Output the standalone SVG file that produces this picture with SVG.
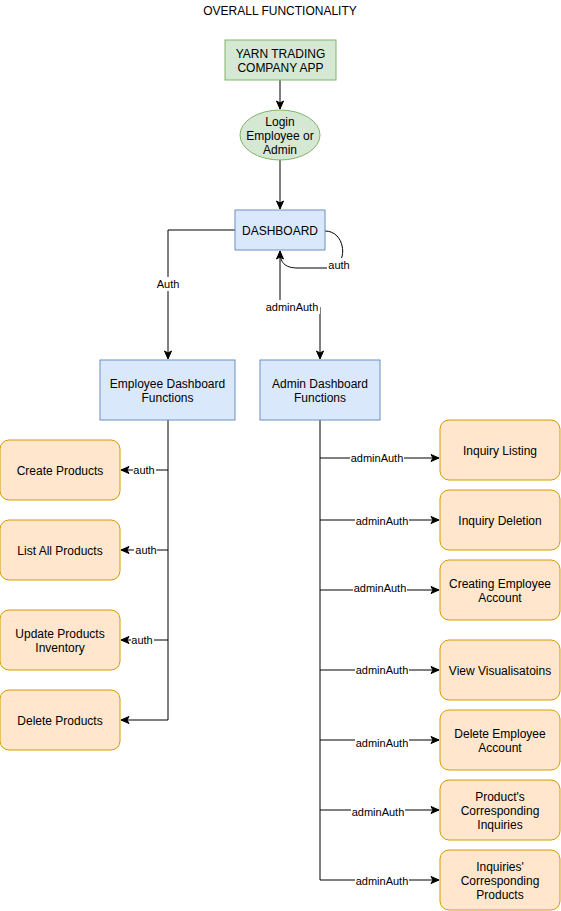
<svg xmlns="http://www.w3.org/2000/svg" width="561" height="911" viewBox="0 0 561 911">
<defs>
<marker id="arr" markerUnits="userSpaceOnUse" markerWidth="10" markerHeight="10" viewBox="0 0 10 10" refX="9" refY="5" orient="auto">
<path d="M1,1.5 L9,5 L1,8.5 L3,5 Z" fill="#000" stroke="#000" stroke-width="1"/>
</marker>
</defs>
<style>
text{font-family:"Liberation Sans",Arial,Helvetica,sans-serif;fill:#000;text-anchor:middle;dominant-baseline:central}
.n{font-size:12px}
.l{font-size:11px}
.green{fill:#d5e8d4;stroke:#82b366;stroke-width:1}
.blue{fill:#dae8fc;stroke:#6c8ebf;stroke-width:1}
.orange{fill:#ffe6cc;stroke:#d79b00;stroke-width:1}
.e{fill:none;stroke:#000;stroke-width:1}
.bg{fill:#fff}
</style>
<rect width="561" height="911" fill="#fff"/>
<text class="n" x="280" y="11">OVERALL FUNCTIONALITY</text>

<g id="connectors">
<path class="e" d="M280,80 L280,109" marker-end="url(#arr)"/>
<path class="e" d="M280,160 L280,209" marker-end="url(#arr)"/>
<path class="e" d="M235,230 L168,230 L168,359" marker-end="url(#arr)"/>
<rect class="bg" x="155" y="277" width="27" height="14"/>
<text class="l" x="168" y="284">Auth</text>
<path class="e" d="M325,231 C347,231 349,268 328,268 L298,268 C284,268 280,262 280,251" marker-end="url(#arr)"/>
<rect class="bg" x="327" y="258" width="24" height="14"/>
<text class="l" x="339" y="265">auth</text>
<path class="e" d="M280,252 L280,307 L320,307 L320,359" marker-end="url(#arr)"/>
<rect class="bg" x="264" y="300" width="56" height="14"/>
<text class="l" x="292" y="307">adminAuth</text>

<path class="e" d="M168,420 L168,720 L121,720" marker-end="url(#arr)"/>
<path class="e" d="M168,470 L121,470" marker-end="url(#arr)"/>
<path class="e" d="M168,550 L121,550" marker-end="url(#arr)"/>
<path class="e" d="M168,640 L121,640" marker-end="url(#arr)"/>
<rect class="bg" x="133" y="463" width="23" height="14"/>
<text class="l" x="144" y="470">auth</text>
<rect class="bg" x="134" y="543" width="23" height="14"/>
<text class="l" x="146" y="550">auth</text>
<rect class="bg" x="131" y="633" width="23" height="14"/>
<text class="l" x="142" y="640">auth</text>

<path class="e" d="M320,420 L320,880 L439,880" marker-end="url(#arr)"/>
<path class="e" d="M320,458 L439,458" marker-end="url(#arr)"/>
<path class="e" d="M320,520 L439,520" marker-end="url(#arr)"/>
<path class="e" d="M320,590 L439,590" marker-end="url(#arr)"/>
<path class="e" d="M320,670 L439,670" marker-end="url(#arr)"/>
<path class="e" d="M320,740 L439,740" marker-end="url(#arr)"/>
<path class="e" d="M320,810 L439,810" marker-end="url(#arr)"/>
<rect class="bg" x="350" y="451" width="54" height="14"/>
<text class="l" x="377" y="458">adminAuth</text>
<rect class="bg" x="355" y="514" width="54" height="14"/>
<text class="l" x="382" y="521">adminAuth</text>
<rect class="bg" x="353" y="581" width="54" height="14"/>
<text class="l" x="380" y="588">adminAuth</text>
<rect class="bg" x="355" y="663" width="54" height="14"/>
<text class="l" x="382" y="670">adminAuth</text>
<rect class="bg" x="355" y="736" width="54" height="14"/>
<text class="l" x="382" y="743">adminAuth</text>
<rect class="bg" x="351" y="805" width="54" height="14"/>
<text class="l" x="378" y="812">adminAuth</text>
<rect class="bg" x="355" y="874" width="54" height="14"/>
<text class="l" x="382" y="881">adminAuth</text>
</g>

<g id="yarn-app"><rect class="green" x="225" y="40" width="111" height="40"/>
<text class="n" x="280.5" y="54">YARN TRADING</text><text class="n" x="280.5" y="68">COMPANY APP</text></g>
<g id="login"><ellipse class="green" cx="280" cy="135" rx="40" ry="25"/>
<text class="n" x="280" y="122">Login</text><text class="n" x="280" y="136">Employee or</text><text class="n" x="280" y="150">Admin</text></g>
<g id="dashboard"><rect class="blue" x="235" y="210" width="90" height="40"/>
<text class="n" x="280" y="231">DASHBOARD</text></g>
<g id="employee-dashboard"><rect class="blue" x="100" y="360" width="135" height="60"/>
<text class="n" x="167.5" y="384">Employee Dashboard</text><text class="n" x="167.5" y="398">Functions</text></g>
<g id="admin-dashboard"><rect class="blue" x="260" y="360" width="120" height="60"/>
<text class="n" x="320" y="384">Admin Dashboard</text><text class="n" x="320" y="398">Functions</text></g>

<g id="create-products"><rect class="orange" x="0" y="440" width="120" height="60" rx="9"/>
<text class="n" x="60" y="471">Create Products</text></g>
<g id="list-products"><rect class="orange" x="0" y="520" width="120" height="60" rx="9"/>
<text class="n" x="60" y="551">List All Products</text></g>
<g id="update-products"><rect class="orange" x="0" y="610" width="120" height="60" rx="9"/>
<text class="n" x="60" y="634">Update Products</text><text class="n" x="60" y="648">Inventory</text></g>
<g id="delete-products"><rect class="orange" x="0" y="690" width="120" height="60" rx="9"/>
<text class="n" x="60" y="721">Delete Products</text></g>

<g id="inquiry-listing"><rect class="orange" x="440" y="420" width="120" height="60" rx="9"/>
<text class="n" x="500" y="451">Inquiry Listing</text></g>
<g id="inquiry-deletion"><rect class="orange" x="440" y="490" width="120" height="60" rx="9"/>
<text class="n" x="500" y="521">Inquiry Deletion</text></g>
<g id="creating-employee"><rect class="orange" x="440" y="560" width="120" height="60" rx="9"/>
<text class="n" x="500" y="584">Creating Employee</text><text class="n" x="500" y="598">Account</text></g>
<g id="view-visualisations"><rect class="orange" x="440" y="640" width="120" height="60" rx="9"/>
<text class="n" x="500" y="671">View Visualisatoins</text></g>
<g id="delete-employee"><rect class="orange" x="440" y="710" width="120" height="60" rx="9"/>
<text class="n" x="500" y="734">Delete Employee</text><text class="n" x="500" y="748">Account</text></g>
<g id="products-inquiries"><rect class="orange" x="440" y="780" width="120" height="60" rx="9"/>
<text class="n" x="500" y="797">Product's</text><text class="n" x="500" y="811">Corresponding</text><text class="n" x="500" y="825">Inquiries</text></g>
<g id="inquiries-products"><rect class="orange" x="440" y="850" width="120" height="60" rx="9"/>
<text class="n" x="500" y="867">Inquiries'</text><text class="n" x="500" y="881">Corresponding</text><text class="n" x="500" y="895">Products</text></g>
</svg>
